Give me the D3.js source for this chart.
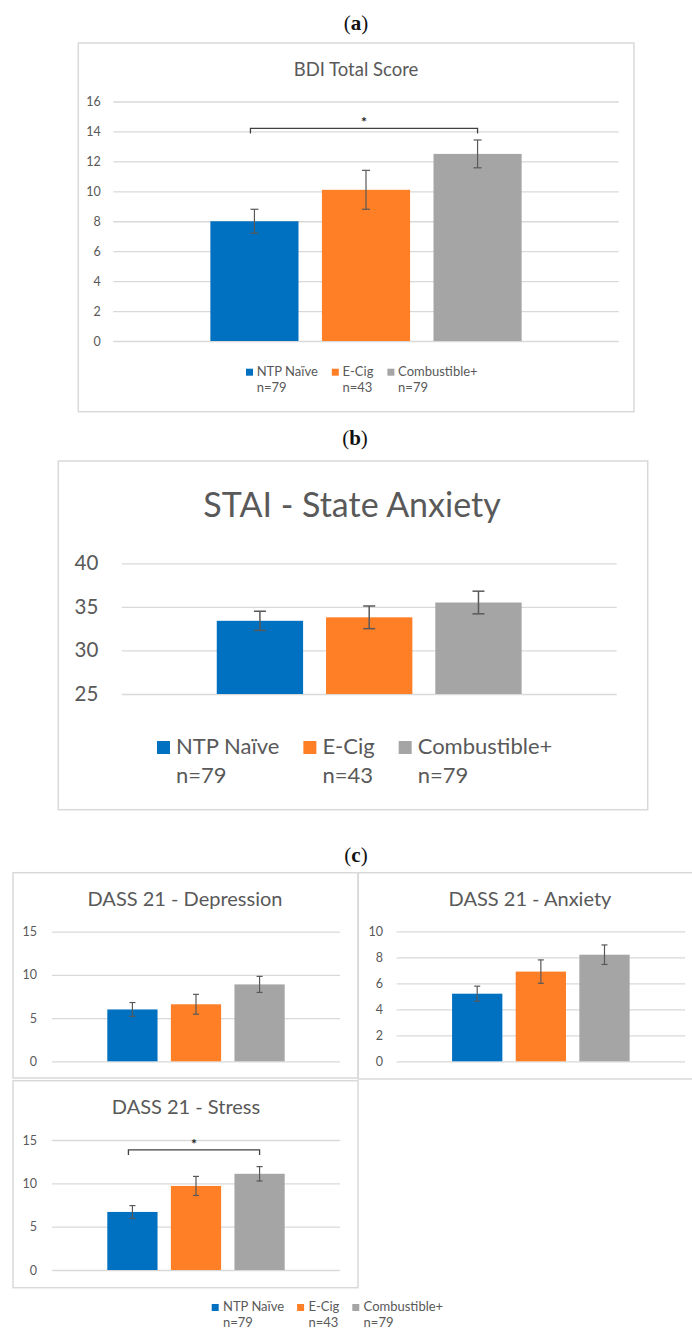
<!DOCTYPE html>
<html>
<head>
<meta charset="utf-8">
<script src="https://cdn.jsdelivr.net/npm/d3@7"></script>
<style>
	body { margin: 0; background: white; }
	text { font-family: Lato, "Open Sans", sans-serif; }
</style>
</head>
<body>
<script>
var groups = ['NTP Naïve', 'E-Cig', 'Combustible+']
var groupN = ['n=79', 'n=43', 'n=79']
var colors = ['#0070C0', '#FF7F27', '#A5A5A5']

var bdiMeans = [8.0, 10.1, 12.5]
var bdiErrors = [0.8, 1.3, 0.93]
var bdiTicks = [0, 2, 4, 6, 8, 10, 12, 14, 16]

var staiMeans = [33.4, 33.8, 35.5]
var staiErrors = [1.1, 1.3, 1.3]
var staiTicks = [25, 30, 35, 40]

var depMeans = [6.0, 6.6, 8.9]
var depErrors = [0.8, 1.15, 0.93]
var depTicks = [0, 5, 10, 15]

var anxMeans = [5.2, 6.9, 8.2]
var anxErrors = [0.58, 0.9, 0.75]
var anxTicks = [0, 2, 4, 6, 8, 10]

var stressMeans = [6.7, 9.7, 11.1]
var stressErrors = [0.73, 1.1, 0.83]
var stressTicks = [0, 5, 10, 15]

// significance bracket: from group, to group, height on the y scale
var bdiSig = ['NTP Naïve', 'Combustible+', 14.2]
var stressSig = ['NTP Naïve', 'Combustible+', 13.85]

var width = 692,
	height = 1330

var svg = d3.select('body').append('svg')
	.attr('width', width)
	.attr('height', height)

var color = d3.scaleOrdinal().domain(groups).range(colors)

function panelLabel(letter, cx, y) {
	var t = svg.append('text')
		.attr('x', cx)
		.attr('y', y)
		.attr('text-anchor', 'middle')
		.style('font-family', '"Liberation Serif", "DejaVu Serif", serif')
		.style('font-size', '21px')
		.attr('fill', '#111')
	t.append('tspan').text('(')
	t.append('tspan').style('font-weight', 'bold').text(letter)
	t.append('tspan').text(')')
}

function drawPanel(p) {
	svg.append('rect')
		.attr('x', p.box[0])
		.attr('y', p.box[1])
		.attr('width', p.box[2] - p.box[0])
		.attr('height', p.box[3] - p.box[1])
		.attr('fill', 'white')
		.attr('stroke', '#d9d9d9')
		.attr('stroke-width', 1.5)

	svg.append('text')
		.attr('x', p.titleX)
		.attr('y', p.titleY)
		.attr('text-anchor', 'middle')
		.attr('fill', '#595959')
		.style('font-size', p.titleSize + 'px')
		.text(p.title)

	var y = d3.scaleLinear()
		.domain([p.ticks[0], p.ticks[p.ticks.length - 1]])
		.range([p.y0, p.y1])

	var x = d3.scaleBand()
		.domain(groups)
		.range([p.x0, p.x1])
		.paddingInner(0.21)
		.paddingOuter(0.87)

	// gridlines + tick labels
	svg.append('g')
		.attr('transform', 'translate(' + p.x0 + ',0)')
		.call(d3.axisLeft(y).tickValues(p.ticks).tickSize(-(p.x1 - p.x0)).tickPadding(p.tickPad))
		.call(g => g.select('.domain').remove())
		.call(g => g.selectAll('line').attr('stroke', '#d9d9d9').attr('stroke-width', 1.3))
		.call(g => g.selectAll('text')
			.attr('fill', '#595959')
			.style('font-family', 'Lato, "Open Sans", sans-serif')
			.style('font-size', p.tickSize + 'px'))

	var rows = groups.map((d, i) => ({ group: d, mean: p.means[i], err: p.errors[i] }))

	svg.selectAll(null)
		.data(rows)
		.enter()
		.append('rect')
			.attr('x', d => x(d.group))
			.attr('y', d => y(d.mean))
			.attr('width', x.bandwidth())
			.attr('height', d => y(p.ticks[0]) - y(d.mean))
			.attr('fill', d => color(d.group))

	var eb = svg.append('g')
		.attr('stroke', '#595959')
		.attr('stroke-width', p.errWidth)
		.attr('fill', 'none')

	rows.forEach(function (d) {
		var cx = x(d.group) + x.bandwidth() / 2
		var top = y(d.mean + d.err),
			bot = y(d.mean - d.err)
		eb.append('line').attr('x1', cx).attr('x2', cx).attr('y1', top).attr('y2', bot)
		eb.append('line').attr('x1', cx - p.cap / 2).attr('x2', cx + p.cap / 2).attr('y1', top).attr('y2', top)
		eb.append('line').attr('x1', cx - p.cap / 2).attr('x2', cx + p.cap / 2).attr('y1', bot).attr('y2', bot)
	})

	if (p.sig) {
		var xa = x(p.sig[0]) + x.bandwidth() / 2 - 4,
			xb = x(p.sig[1]) + x.bandwidth() / 2,
			yb = y(p.sig[2])
		svg.append('path')
			.attr('d', 'M' + xa + ',' + (yb + 5) + 'V' + yb + 'H' + xb + 'V' + (yb + 5))
			.attr('fill', 'none')
			.attr('stroke', '#404040')
			.attr('stroke-width', 1.3)
		svg.append('text')
			.attr('x', (xa + xb) / 2)
			.attr('y', yb - 1)
			.attr('text-anchor', 'middle')
			.attr('fill', '#222')
			.style('font-size', '14px')
			.style('font-weight', 'bold')
			.text('*')
	}
}

function drawLegend(L) {
	var xPos = L.x
	groups.forEach(function (d, i) {
		svg.append('rect')
			.attr('x', xPos)
			.attr('y', L.y - L.sq)
			.attr('width', L.sq)
			.attr('height', L.sq)
			.attr('fill', color(d))
		var t = svg.append('text')
			.attr('x', xPos + L.textOff)
			.attr('y', L.y)
			.attr('fill', '#595959')
			.style('font-size', L.size + 'px')
			.text(d)
		svg.append('text')
			.attr('x', xPos + L.textOff)
			.attr('y', L.y + L.line)
			.attr('fill', '#595959')
			.style('font-size', L.size + 'px')
			.text(groupN[i])
		xPos += L.textOff + t.node().getComputedTextLength() + L.gap
	})
}

// (a) BDI
panelLabel('a', 356, 30)
drawPanel({
	box: [78.3, 43, 634, 411.7],
	title: 'BDI Total Score', titleX: 356, titleY: 76, titleSize: 18.5,
	ticks: bdiTicks, means: bdiMeans, errors: bdiErrors,
	x0: 113.3, x1: 618.7, y0: 341, y1: 101.5,
	tickPad: 12.6, tickSize: 12.5, cap: 8, errWidth: 1.2,
	sig: bdiSig
})
drawLegend({ x: 246, y: 375.7, sq: 7, textOff: 10.7, size: 13, line: 16, gap: 14 })

// (b) STAI
panelLabel('b', 355, 445)
drawPanel({
	box: [58.3, 461, 647.7, 809.7],
	title: 'STAI - State Anxiety', titleX: 352, titleY: 517.3, titleSize: 34,
	ticks: staiTicks, means: staiMeans, errors: staiErrors,
	x0: 121.7, x1: 616.7, y0: 694, y1: 563.3,
	tickPad: 23.4, tickSize: 20.5, cap: 12, errWidth: 1.5
})
drawLegend({ x: 157, y: 754, sq: 13, textOff: 19, size: 22, line: 29.3, gap: 24 })

// (c) DASS 21
panelLabel('c', 356, 862)
drawPanel({
	box: [13, 872.7, 358, 1078],
	title: 'DASS 21 - Depression', titleX: 185, titleY: 906, titleSize: 20,
	ticks: depTicks, means: depMeans, errors: depErrors,
	x0: 52, x1: 340, y0: 1061.3, y1: 931.7,
	tickPad: 15, tickSize: 12.5, cap: 6, errWidth: 1.2
})
drawPanel({
	box: [358.3, 872.7, 700, 1079],
	title: 'DASS 21 - Anxiety', titleX: 530, titleY: 906, titleSize: 20,
	ticks: anxTicks, means: anxMeans, errors: anxErrors,
	x0: 396.7, x1: 685, y0: 1061.3, y1: 931.3,
	tickPad: 13.7, tickSize: 12.5, cap: 6, errWidth: 1.2
})
drawPanel({
	box: [13, 1080.7, 358, 1287.7],
	title: 'DASS 21 - Stress', titleX: 186, titleY: 1114, titleSize: 20,
	ticks: stressTicks, means: stressMeans, errors: stressErrors,
	x0: 52, x1: 340, y0: 1270, y1: 1140,
	tickPad: 15, tickSize: 12.5, cap: 6, errWidth: 1.2,
	sig: stressSig
})
drawLegend({ x: 211.7, y: 1311, sq: 7, textOff: 11.3, size: 13, line: 15.5, gap: 13 })
</script>
</body>
</html>
